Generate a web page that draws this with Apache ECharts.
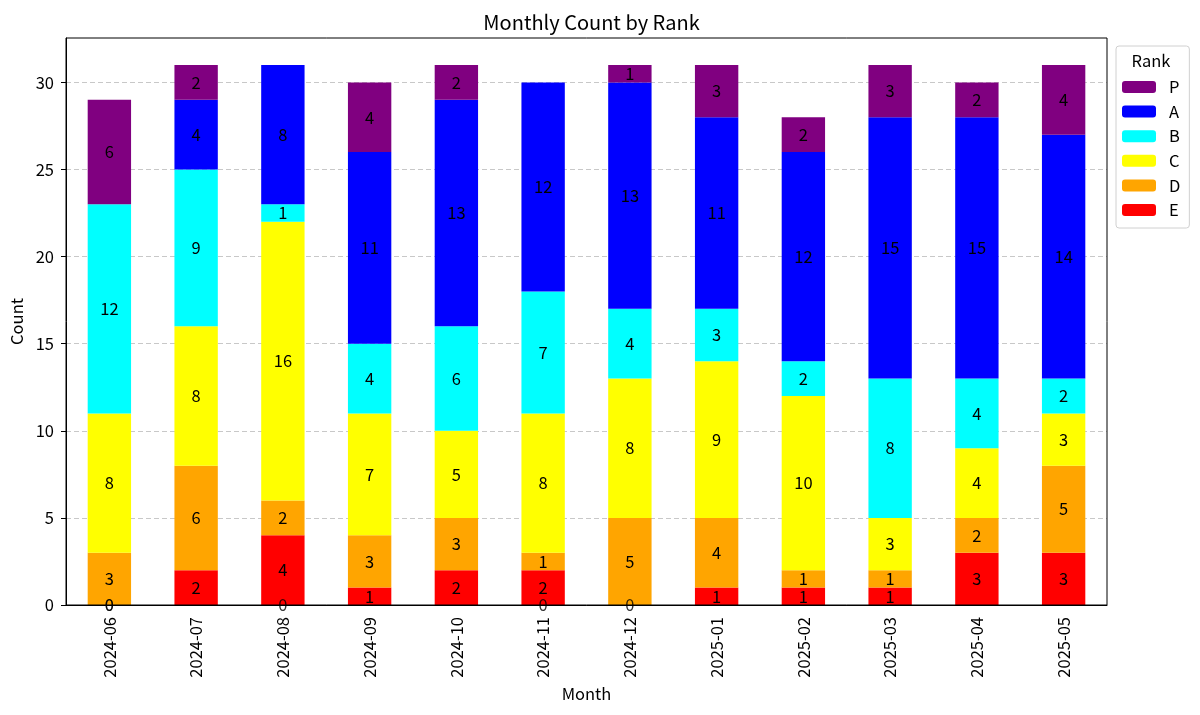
<!DOCTYPE html>
<html>
<head>
<meta charset="utf-8">
<script src="https://cdn.jsdelivr.net/npm/echarts@6/dist/echarts.min.js"></script>
<style>
  html, body { margin: 0; padding: 0; background: #fff; }
  #chart { width: 1200px; height: 715px; }
</style>
</head>
<body>
<div id="chart"></div>
<script>
// months on the x axis
const months = ['2024-06', '2024-07', '2024-08', '2024-09', '2024-10', '2024-11',
  '2024-12', '2025-01', '2025-02', '2025-03', '2025-04', '2025-05']

// counts per rank, stacked bottom (E) to top (P)
const rankE = [0, 2, 4, 1, 2, 2, 0, 1, 1, 1, 3, 3]
const rankD = [3, 6, 2, 3, 3, 1, 5, 4, 1, 1, 2, 5]
const rankC = [8, 8, 16, 7, 5, 8, 8, 9, 10, 3, 4, 3]
const rankB = [12, 9, 1, 4, 6, 7, 4, 3, 2, 8, 4, 2]
const rankA = [0, 4, 8, 11, 13, 12, 13, 11, 12, 15, 15, 14]
const rankP = [6, 2, 0, 4, 2, 0, 1, 3, 2, 3, 2, 4]

const yTicks = [0, 5, 10, 15, 20, 25, 30]

const font = '"Noto Sans CJK JP", "Noto Sans", sans-serif'
const fs = 16.5

const ranks = [
  { name: 'E', data: rankE, color: '#ff0000' },
  { name: 'D', data: rankD, color: '#ffa500' },
  { name: 'C', data: rankC, color: '#ffff00' },
  { name: 'B', data: rankB, color: '#00ffff' },
  { name: 'A', data: rankA, color: '#0000ff' },
  { name: 'P', data: rankP, color: '#800080' },
]

const chart = echarts.init(document.getElementById('chart'))

// stacked bars, label hidden on zero segments
const barSeries = ranks.map((r) => ({
  name: r.name,
  type: 'bar',
  stack: 'total',
  barWidth: '50%',
  data: r.data,
  itemStyle: { color: r.color },
  label: {
    show: true,
    position: 'inside',
    color: '#000',
    fontSize: fs,
    fontFamily: font,
    formatter: (p) => (p.value === 0 ? '' : String(p.value)),
  },
  emphasis: { disabled: true },
}))

// zero counts get their label at the baseline (as in the source plot)
const zeroPoints = []
ranks.forEach((r) => {
  r.data.forEach((v, i) => {
    if (v === 0) zeroPoints.push([months[i], 0])
  })
})

const zeroSeries = {
  name: 'zero',
  type: 'scatter',
  data: zeroPoints,
  symbolSize: 1,
  itemStyle: { color: 'rgba(0,0,0,0)' },
  label: {
    show: true,
    position: 'inside',
    color: '#000',
    fontSize: fs,
    fontFamily: font,
    formatter: '0',
  },
  z: 5,
  silent: true,
}

const maxY = 32.55
const gridLeft = 66
const gridRight = 1107
const gridTop = 38
const gridBottom = 605

chart.setOption({
  animation: false,
  textStyle: { fontFamily: font },
  title: {
    text: 'Monthly Count by Rank',
    left: (gridLeft + gridRight) / 2,
    textAlign: 'center',
    top: 7,
    textStyle: { fontSize: 20, fontWeight: 'normal', color: '#000', fontFamily: font },
  },
  grid: {
    left: gridLeft,
    right: 1200 - gridRight,
    top: gridTop,
    bottom: 715 - gridBottom,
  },
  legend: {
    data: ['P', 'A', 'B', 'C', 'D', 'E'],
    orient: 'vertical',
    left: 1116,
    top: 46,
    padding: [32, 9, 9, 6],
    itemWidth: 34,
    itemHeight: 12,
    itemGap: 6.6,
    backgroundColor: '#fff',
    borderColor: '#d0d0d0',
    borderWidth: 1,
    borderRadius: 3,
    selectedMode: false,
    textStyle: { fontSize: fs, color: '#000', fontFamily: font, lineHeight: 18, padding: [0, 0, 0, 8] },
  },
  graphic: [
    {
      type: 'text',
      x: 1151,
      y: 52,
      z: 100,
      style: { text: 'Rank', fontSize: fs, fill: '#000', fontFamily: font, align: 'center' },
    },
    {
      // plot frame
      type: 'rect',
      z: 90,
      silent: true,
      shape: { x: gridLeft, y: gridTop, width: gridRight - gridLeft, height: gridBottom - gridTop },
      style: { fill: 'none', stroke: '#000', lineWidth: 1 },
    },
  ],
  xAxis: {
    type: 'category',
    data: months,
    name: 'Month',
    nameLocation: 'middle',
    nameGap: 80,
    nameTextStyle: { fontSize: fs, color: '#000', fontFamily: font },
    axisLine: { lineStyle: { color: '#000' } },
    axisTick: { alignWithLabel: true, length: 5, lineStyle: { color: '#000' } },
    axisLabel: { rotate: 90, fontSize: fs, color: '#000', margin: 12, fontFamily: font },
    splitLine: { show: false },
  },
  yAxis: {
    type: 'value',
    min: 0,
    max: maxY,
    interval: 5,
    name: 'Count',
    nameLocation: 'middle',
    nameGap: 41,
    nameTextStyle: { fontSize: fs, color: '#000', fontFamily: font },
    axisLine: { show: true, lineStyle: { color: '#000' } },
    axisTick: { show: true, length: 5, customValues: yTicks, lineStyle: { color: '#000' } },
    axisLabel: {
      fontSize: fs,
      color: '#000',
      margin: 12,
      fontFamily: font,
      customValues: yTicks,
    },
    splitLine: {
      show: true,
      lineStyle: { color: '#c8c8c8', type: [5, 3], width: 1 },
    },
  },
  series: [...barSeries, zeroSeries],
})
</script>
</body>
</html>
